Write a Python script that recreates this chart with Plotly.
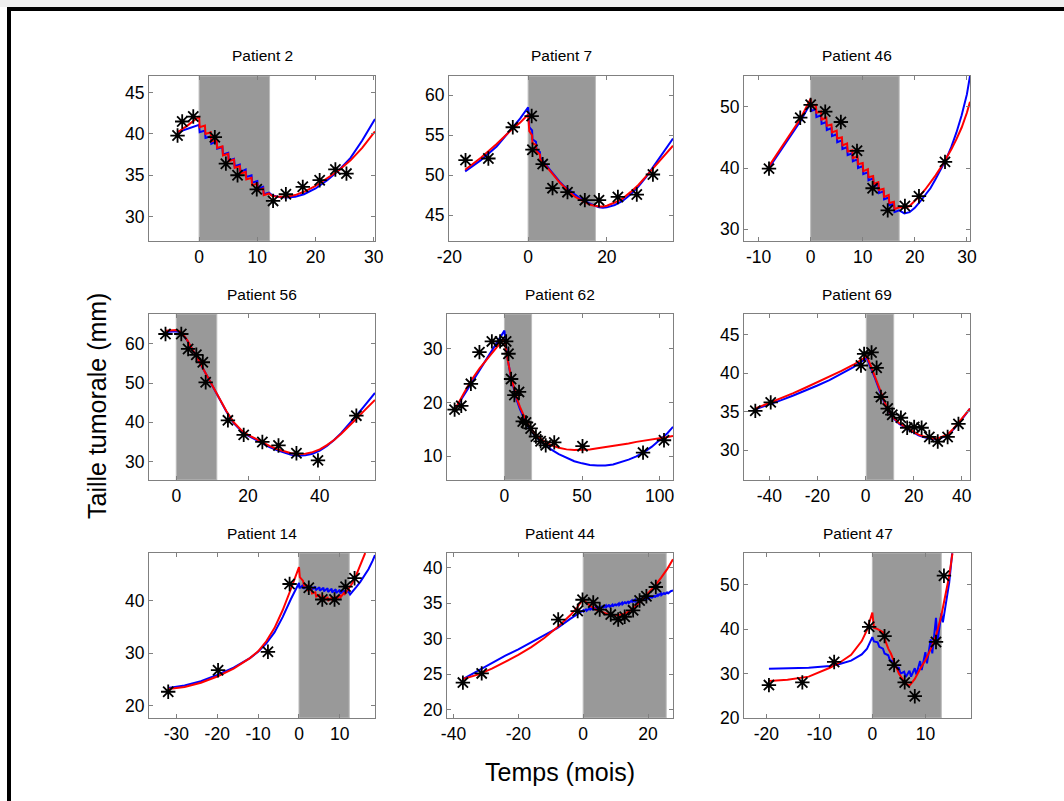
import plotly.graph_objects as go

W, H = 1064, 801

# ---------------- data ----------------
TITLES = ["Patient 2", "Patient 7", "Patient 46",
          "Patient 56", "Patient 62", "Patient 69",
          "Patient 14", "Patient 44", "Patient 47"]

# Patient 2
P2_OBS_T = [-3.7, -2.9, -1.0, 2.7, 4.6, 6.6, 9.9, 12.7, 14.9, 17.8, 20.7, 23.4, 25.3]
P2_OBS_Y = [39.8, 41.5, 42.1, 39.6, 36.4, 35.0, 33.3, 31.9, 32.7, 33.6, 34.4, 35.7, 35.2]
P2_TREAT = [0, 12.1]
P2_M_T = [-3.7, -2.0, 0.0, 0.1, 1.0, 1.1, 2.0, 2.1, 3.0, 3.1, 4.0, 4.1, 5.0, 5.1, 6.0, 6.1, 7.0, 7.1,
          8.0, 8.1, 9.0, 9.1, 10.0, 10.1, 11.0, 11.1, 12.0, 12.5, 13.5, 15.0, 16.5, 18.0, 20.0, 22.0,
          24.0, 26.0, 28.0, 30.2]
P2_M1_Y = [40.2, 40.6, 41.1, 40.2, 40.4, 39.5, 39.7, 38.8, 39.1, 38.2, 38.4, 37.5, 37.7, 36.8, 37.0,
           36.1, 36.3, 35.4, 35.7, 34.8, 35.0, 34.1, 34.3, 33.4, 33.6, 32.7, 32.9, 32.6, 32.4, 32.3,
           32.4, 32.7, 33.4, 34.4, 35.6, 37.1, 39.2, 41.8]
P2_M2_Y = [40.2, 41.0, 42.1, 40.8, 41.0, 40.0, 40.2, 39.1, 39.3, 38.3, 38.5, 37.4, 37.6, 36.7, 36.9,
           35.9, 36.1, 35.2, 35.4, 34.5, 34.7, 33.8, 34.0, 33.2, 33.4, 32.6, 32.8, 32.5, 32.4, 32.4,
           32.6, 33.0, 33.7, 34.6, 35.6, 36.8, 38.3, 40.3]

# Patient 7
P7_OBS_T = [-15.9, -10.1, -3.9, 0.9, 1.1, 3.7, 6.2, 10.0, 14.4, 18.0, 22.8, 27.6, 31.7]
P7_OBS_Y = [51.9, 52.1, 56.0, 57.4, 53.2, 51.4, 48.4, 47.9, 46.9, 46.9, 47.3, 47.6, 50.1]
P7_TREAT = [0, 17.1]
P7_M_T = [-16, -12, -8, -4, -2, 0, 0.3, 1, 1.1, 2, 2.1, 3, 3.1, 4, 5, 6, 7, 8, 9, 10, 11, 12, 13,
          14, 15, 16, 17, 18, 19, 20, 22, 24, 26, 28, 30, 32, 34, 36.8]
P7_M1_Y = [50.5, 51.9, 53.6, 55.9, 57.1, 58.5, 56.0, 55.6, 54.5, 54.2, 53.2, 52.9, 52.2, 51.6, 51.0,
           50.3, 49.7, 49.2, 48.7, 48.3, 47.9, 47.5, 47.2, 46.9, 46.6, 46.4, 46.2, 46.0, 45.95, 46.0,
           46.3, 46.8, 47.6, 48.6, 49.8, 51.2, 52.7, 54.6]
P7_M2_Y = [50.7, 52.2, 53.9, 55.8, 56.6, 57.6, 55.5, 55.0, 54.0, 53.8, 53.0, 52.6, 52.0, 51.5, 50.9,
           50.3, 49.7, 49.1, 48.6, 48.1, 47.7, 47.3, 47.0, 46.7, 46.5, 46.3, 46.2, 46.1, 46.1, 46.2,
           46.6, 47.1, 47.9, 48.8, 49.9, 51.0, 52.2, 53.7]

# Patient 46
P46_OBS_T = [-8.0, -2.0, 0.0, 2.8, 5.8, 8.9, 11.9, 14.8, 18.1, 20.8, 25.8]
P46_OBS_Y = [39.9, 48.2, 50.3, 49.2, 47.5, 42.8, 36.7, 33.1, 33.8, 35.4, 41.0]
P46_TREAT = [0, 17]
P46_M_T = [-8, -6, -4, -2, 0, 0.1, 1, 1.1, 2, 2.1, 3, 3.1, 4, 4.1, 5, 5.1, 6, 6.1, 7, 7.1, 8, 8.1,
           9, 9.1, 10, 10.1, 11, 11.1, 12, 12.1, 13, 13.1, 14, 14.1, 15, 15.1, 16, 16.1, 17, 18, 19,
           20, 21, 22, 23, 24, 25, 26, 27, 28, 29, 30, 30.6]
P46_M1_Y = [40.0, 42.5, 45.0, 47.6, 50.6, 49.3, 49.6, 48.3, 48.6, 47.2, 47.5, 46.2, 46.5, 45.2, 45.5,
            44.2, 44.5, 43.1, 43.4, 42.1, 42.4, 41.1, 41.4, 40.0, 40.3, 39.0, 39.3, 38.0, 38.3, 37.0,
            37.3, 35.9, 36.2, 34.9, 35.2, 33.9, 34.2, 32.8, 33.1, 32.6, 32.8, 33.5, 34.5, 35.6, 36.7,
            38.2, 39.7, 41.4, 43.4, 45.8, 48.6, 52.0, 55.0]
P46_M2_Y = [40.3, 42.8, 45.3, 48.0, 51.3, 50.0, 50.3, 49.0, 49.2, 47.9, 48.2, 46.9, 47.1, 45.8, 46.1,
            44.8, 45.0, 43.7, 44.0, 42.7, 42.9, 41.6, 41.9, 40.6, 40.8, 39.5, 39.8, 38.5, 38.7, 37.4,
            37.7, 36.4, 36.6, 35.3, 35.6, 34.3, 34.5, 33.3, 33.6, 33.5, 33.8, 34.6, 35.5, 36.5, 37.6,
            38.8, 40.1, 41.5, 43.0, 44.7, 46.6, 49.0, 50.8]

# Patient 56
P56_OBS_T = [-3.0, 1.4, 3.3, 5.6, 7.4, 8.2, 14.4, 18.8, 24.0, 28.5, 33.5, 39.5, 50.2]
P56_OBS_Y = [62.5, 62.5, 58.7, 57.2, 55.3, 50.2, 40.5, 36.8, 35.0, 34.1, 32.1, 30.3, 41.7]
P56_TREAT = [0, 11.3]
P56_M_T = [-3, -1, 0, 1, 2, 3, 4, 5, 6, 7, 8, 9, 10, 11, 12, 13, 14, 16, 18, 20, 22, 24, 26, 28,
           30, 32, 34, 36, 38, 40, 42, 44, 46, 48, 50, 52, 55.4]
P56_M1_Y = [63.0, 63.2, 63.2, 63.0, 62.2, 60.9, 59.4, 57.8, 56.2, 54.5, 52.8, 51.1, 49.5, 48.0, 46.4,
            44.5, 42.7, 39.8, 37.9, 36.6, 35.6, 34.6, 33.7, 32.9, 32.2, 31.7, 31.5, 31.6, 32.0, 32.8,
            34.0, 35.5, 37.3, 39.3, 41.5, 43.7, 47.5]
P56_M2_Y = [63.3, 63.5, 63.5, 63.2, 62.3, 61.0, 59.5, 57.9, 56.2, 54.5, 52.8, 51.1, 49.5, 48.0, 46.4,
            44.6, 42.8, 40.0, 38.1, 36.8, 35.8, 34.9, 34.0, 33.2, 32.6, 32.1, 31.9, 32.0, 32.4, 33.1,
            34.2, 35.5, 37.1, 38.8, 40.7, 42.6, 45.7]

# Patient 62
P62_OBS_T = [-32.1, -27.8, -21.6, -16.1, -8.1, -2.8, 1.1, 2.6, 4.3, 6.4, 9.4, 11.8, 13.9, 16.9,
             20.3, 23.3, 26.6, 32.1, 50.3, 89.3, 102.8]
P62_OBS_Y = [18.7, 19.4, 23.5, 29.4, 31.4, 31.4, 31.4, 29.1, 24.4, 21.4, 22.0, 16.5, 16.3, 15.2,
             13.7, 12.8, 12.05, 12.6, 11.9, 10.7, 13.0]
P62_TREAT = [0, 17.5]
P62_M_T = [-32, -27, -22, -16, -10, -5, 0, 1, 2, 4, 6, 8, 10, 12, 14, 16, 18, 20, 25, 30, 35, 40,
           45, 50, 55, 60, 65, 70, 75, 80, 85, 90, 95, 100, 105, 108.6]
P62_M1_Y = [18.7, 21.0, 23.3, 26.1, 28.8, 31.1, 33.4, 30.6, 28.3, 25.0, 22.4, 20.4, 18.8, 17.4,
            16.2, 15.2, 14.4, 13.7, 12.4, 11.3, 10.4, 9.7, 9.1, 8.7, 8.4, 8.3, 8.3, 8.5, 8.9, 9.4,
            10.0, 10.8, 11.8, 13.0, 14.3, 15.5]
P62_M2_Y = [18.7, 21.3, 23.9, 26.4, 28.6, 30.3, 31.8, 29.9, 28.1, 25.2, 22.8, 20.8, 19.2, 17.8,
            16.6, 15.6, 14.8, 14.1, 12.9, 12.1, 11.6, 11.3, 11.2, 11.2, 11.3, 11.5, 11.7, 11.9, 12.2,
            12.4, 12.7, 12.9, 13.2, 13.4, 13.6, 13.8]

# Patient 69
P69_OBS_T = [-45.8, -39.4, -1.9, -0.6, 2.5, 4.6, 6.4, 9.2, 11.1, 14.7, 17.3, 20.2, 23.3, 26.5,
             30.0, 34.1, 38.6]
P69_OBS_Y = [35.1, 36.2, 41.0, 42.5, 42.7, 40.7, 36.9, 35.4, 34.6, 34.2, 32.9, 33.0, 32.9, 31.7,
             31.1, 31.7, 33.4]
P69_TREAT = [0.3, 11.7]
P69_M_T = [-45.8, -40, -35, -30, -25, -20, -15, -10, -5, 0.5, 2, 4, 6, 8, 9, 10, 11, 12, 14, 16,
           18, 20, 22, 24, 26, 28, 30, 32, 34, 36, 38, 40, 43.4]
P69_M1_Y = [35.3, 35.9, 36.5, 37.1, 37.7, 38.4, 39.1, 39.9, 40.8, 42.0, 40.9, 39.3, 37.6, 36.0, 35.3,
            34.8, 34.4, 34.0, 33.4, 33.0, 32.6, 32.2, 31.9, 31.7, 31.5, 31.4, 31.4, 31.6, 31.9, 32.5,
            33.2, 34.0, 35.4]
P69_M2_Y = [35.4, 36.1, 36.8, 37.4, 38.1, 38.8, 39.5, 40.3, 41.1, 42.2, 41.1, 39.4, 37.7, 36.1, 35.4,
            34.9, 34.5, 34.1, 33.5, 33.1, 32.7, 32.3, 32.0, 31.8, 31.6, 31.5, 31.5, 31.7, 32.0, 32.6,
            33.3, 34.1, 35.4]

# Patient 14
P14_OBS_T = [-32.0, -19.8, -7.6, -2.3, 2.4, 5.7, 8.7, 11.4, 13.6]
P14_OBS_Y = [22.7, 26.8, 30.3, 43.2, 42.5, 40.25, 40.25, 42.7, 44.3]
P14_TREAT = [0, 12.3]
P14_M1_T = [-32, -28, -24, -20, -16, -12, -10, -8, -6, -4, -2, 0, 0.1, 1, 1.1, 2, 2.1, 3, 3.1, 4,
            4.1, 5, 5.1, 6, 6.1, 7, 7.1, 8, 8.1, 9, 9.1, 10, 10.1, 11, 11.1, 12, 12.5, 13, 14, 15,
            16, 17, 18, 18.6]
P14_M1_Y = [23.4, 23.9, 24.7, 25.9, 27.3, 29.1, 30.3, 31.9, 34.0, 36.9, 40.3, 43.4, 42.4, 43.0, 42.3,
            42.9, 42.2, 42.8, 42.1, 42.7, 42.0, 42.6, 41.9, 42.5, 41.8, 42.4, 41.7, 42.3, 41.6, 42.2,
            41.5, 42.1, 41.4, 42.0, 41.3, 41.9, 41.2, 41.6, 42.6, 43.6, 44.8, 46.0, 47.6, 48.7]
P14_M2_T = [-32, -28, -24, -20, -16, -12, -10, -8, -6, -4, -2, 0, 0.2, 1, 1.2, 2, 2.2, 3, 3.2, 4,
            4.2, 5, 5.2, 6, 6.2, 7, 7.2, 8, 8.2, 9, 9.2, 10, 10.2, 11, 11.2, 12, 13, 14, 15, 16.2]
P14_M2_Y = [23.2, 23.6, 24.4, 25.6, 27.1, 29.1, 30.4, 32.3, 34.8, 38.2, 42.2, 46.4, 44.5, 43.8, 42.9,
            42.9, 42.0, 42.2, 41.4, 41.6, 40.8, 41.1, 40.4, 40.8, 40.2, 40.6, 40.1, 40.6, 40.1, 40.7,
            40.3, 41.0, 40.7, 41.5, 41.3, 42.1, 43.3, 44.9, 46.8, 49.1]

# Patient 44
P44_OBS_T = [-37.1, -31.3, -7.7, -1.7, -0.2, 3.1, 5.1, 8.5, 10.8, 12.8, 15.4, 17.4, 19.5, 22.4]
P44_OBS_Y = [23.8, 25.1, 32.7, 33.9, 35.5, 35.1, 34.1, 33.4, 32.7, 33.1, 34.0, 35.4, 36.0, 37.3]
P44_TREAT = [0, 25.6]
P44_M1_T = [-37.1, -32, -28, -24, -20, -16, -12, -8, -4, -2, 0,
            0.1, 1, 1.1, 2, 2.1, 3, 3.1, 4, 4.1, 5, 5.1, 6, 6.1, 7, 7.1, 8, 8.1, 9, 9.1, 10,
            10.1, 11, 11.1, 12, 12.1, 13, 13.1, 14, 14.1, 15, 15.1, 16, 16.1, 17, 17.1, 18, 18.1, 19,
            19.1, 20, 20.1, 21, 21.1, 22, 22.1, 23, 23.1, 24, 24.1, 25, 25.1, 26, 26.1, 27, 27.7]
P44_M1_Y = [24.3, 25.6, 26.6, 27.6, 28.5, 29.5, 30.4, 31.5, 32.8, 33.4, 34.0,
            33.85, 34.2, 33.95, 34.3, 34.05, 34.4, 34.15, 34.5, 34.15, 34.5, 34.25, 34.6, 34.35, 34.7,
            34.45, 34.8, 34.45, 34.8, 34.55, 34.9, 34.65, 35.0, 34.75, 35.1, 34.85, 35.2, 34.95, 35.3,
            35.05, 35.4, 35.15, 35.5, 35.25, 35.6, 35.35, 35.7, 35.45, 35.8, 35.55, 35.9, 35.65, 36.0,
            35.75, 36.1, 35.85, 36.2, 36.05, 36.4, 36.15, 36.5, 36.25, 36.6, 36.35, 36.7, 36.8]
P44_M2_T = [-37.1, -32, -28, -24, -20, -16, -12, -8, -4, -2, 0, 1, 2, 4, 6, 8, 10, 12, 14, 16, 18,
            20, 22, 24, 26, 27.7]
P44_M2_Y = [24.3, 25.0, 25.8, 26.7, 27.7, 28.8, 30.1, 31.6, 33.3, 34.3, 35.6, 35.1, 34.7, 34.1, 33.7,
            33.4, 33.3, 33.4, 33.8, 34.5, 35.4, 36.4, 37.4, 38.6, 39.9, 41.2]

# Patient 47
P47_OBS_T = [-19.5, -13.2, -7.2, -0.6, 2.3, 4.1, 6.1, 8.0, 12.0, 13.5]
P47_OBS_Y = [27.4, 28.0, 32.6, 40.5, 38.4, 31.9, 28.0, 24.9, 37.1, 52.0]
P47_TREAT = [0, 13]
P47_M1_T = [-19.5, -16, -12, -8, -6, -4, -2, -1, 0, 0.3, 1, 1.3, 2, 2.3, 3, 3.3, 4, 4.3, 5, 5.3, 6,
            6.3, 7, 7.3, 8, 8.3, 9, 9.3, 10, 10.3, 11, 11.3, 12, 12.3, 13, 13.3, 14, 14.5, 15.05]
P47_M1_Y = [31.1, 31.2, 31.3, 31.7, 32.2, 32.9, 34.3, 35.6, 38.2, 37.2, 37.0, 36.0, 35.6, 34.5, 34.1,
            33.0, 32.7, 31.5, 31.3, 30.0, 30.4, 29.2, 30.6, 29.3, 31.2, 29.8, 32.8, 30.8, 34.8, 32.3,
            37.7, 34.5, 42.5, 37.3, 43.5, 41.5, 46.5, 50.5, 57.0]
P47_M2_T = [-19.5, -16, -12, -8, -6, -4, -2, -1, 0, 0.3, 1, 2, 2.4, 3, 3.5, 4, 4.5, 5, 5.5, 6, 6.5,
            7, 7.5, 8, 9, 10, 11, 12, 13, 14, 14.5, 15.1]
P47_M2_Y = [28.3, 28.6, 29.3, 31.3, 32.6, 34.2, 37.3, 39.8, 43.7, 40.3, 40.0, 39.3, 37.5, 35.6, 34.5,
            32.8, 31.5, 30.0, 29.0, 28.2, 27.6, 27.3, 28.0, 28.8, 31.0, 33.0, 35.5, 38.5, 43.0, 48.5,
            52.0, 57.0]

# tick values
P2_XT, P2_YT = [0, 10, 20, 30], [30, 35, 40, 45]
P7_XT, P7_YT = [-20, 0, 20], [45, 50, 55, 60]
P46_XT, P46_YT = [-10, 0, 10, 20, 30], [30, 40, 50]
P56_XT, P56_YT = [0, 20, 40], [30, 40, 50, 60]
P62_XT, P62_YT = [0, 50, 100], [10, 20, 30]
P69_XT, P69_YT = [-40, -20, 0, 20, 40], [30, 35, 40, 45]
P14_XT, P14_YT = [-30, -20, -10, 0, 10], [20, 30, 40]
P44_XT, P44_YT = [-40, -20, 0, 20], [20, 25, 30, 35, 40]
P47_XT, P47_YT = [-20, -10, 0, 10], [20, 30, 40, 50]

# ---------------- panels ----------------
panels = [
    dict(obs=(P2_OBS_T, P2_OBS_Y), m1=(P2_M_T, P2_M1_Y), m2=(P2_M_T, P2_M2_Y), tr=P2_TREAT,
         xr=[-8.6, 30.2], yr=[27.05, 47.0], xt=P2_XT, yt=P2_YT, box=(149, 375, 76, 241)),
    dict(obs=(P7_OBS_T, P7_OBS_Y), m1=(P7_M_T, P7_M1_Y), m2=(P7_M_T, P7_M2_Y), tr=P7_TREAT,
         xr=[-20.1, 36.8], yr=[41.8, 62.4], xt=P7_XT, yt=P7_YT, box=(449, 673, 76, 241)),
    dict(obs=(P46_OBS_T, P46_OBS_Y), m1=(P46_M_T, P46_M1_Y), m2=(P46_M_T, P46_M2_Y), tr=P46_TREAT,
         xr=[-12.8, 30.6], yr=[28.1, 55.0], xt=P46_XT, yt=P46_YT, box=(744, 970, 76, 241)),
    dict(obs=(P56_OBS_T, P56_OBS_Y), m1=(P56_M_T, P56_M1_Y), m2=(P56_M_T, P56_M2_Y), tr=P56_TREAT,
         xr=[-7.6, 55.4], yr=[25.3, 67.6], xt=P56_XT, yt=P56_YT, box=(149, 375, 314, 480)),
    dict(obs=(P62_OBS_T, P62_OBS_Y), m1=(P62_M_T, P62_M1_Y), m2=(P62_M_T, P62_M2_Y), tr=P62_TREAT,
         xr=[-37.0, 108.6], yr=[5.6, 36.5], xt=P62_XT, yt=P62_YT, box=(447, 673, 314, 480)),
    dict(obs=(P69_OBS_T, P69_OBS_Y), m1=(P69_M_T, P69_M1_Y), m2=(P69_M_T, P69_M2_Y), tr=P69_TREAT,
         xr=[-50.5, 43.4], yr=[26.1, 47.7], xt=P69_XT, yt=P69_YT, box=(744, 970, 314, 480)),
    dict(obs=(P14_OBS_T, P14_OBS_Y), m1=(P14_M1_T, P14_M1_Y), m2=(P14_M2_T, P14_M2_Y), tr=P14_TREAT,
         xr=[-36.7, 18.6], yr=[17.7, 49.1], xt=P14_XT, yt=P14_YT, box=(149, 375, 553, 718)),
    dict(obs=(P44_OBS_T, P44_OBS_Y), m1=(P44_M1_T, P44_M1_Y), m2=(P44_M2_T, P44_M2_Y), tr=P44_TREAT,
         xr=[-42.0, 27.7], yr=[18.8, 42.1], xt=P44_XT, yt=P44_YT, box=(447, 673, 553, 718)),
    dict(obs=(P47_OBS_T, P47_OBS_Y), m1=(P47_M1_T, P47_M1_Y), m2=(P47_M2_T, P47_M2_Y), tr=P47_TREAT,
         xr=[-24.2, 18.6], yr=[20.0, 57.1], xt=P47_XT, yt=P47_YT, box=(744, 971, 553, 718)),
]

FONT = "Arial, Liberation Sans, sans-serif"
FRAME = "#808080"

fig = go.Figure()
layout = dict(template="none", width=W, height=H, margin=dict(l=0, r=0, t=0, b=0, pad=0),
              autosize=False, paper_bgcolor="white", plot_bgcolor="white", showlegend=False,
              font=dict(family=FONT, color="black"))
shapes = []
annotations = []

for i, p in enumerate(panels):
    n = i + 1
    xa = "x" if n == 1 else f"x{n}"
    ya = "y" if n == 1 else f"y{n}"
    x0, x1, y0, y1 = p["box"]
    axis_common = dict(showline=True, linecolor=FRAME, linewidth=1, mirror="ticks",
                       ticks="inside", ticklen=4, tickcolor=FRAME, showgrid=False,
                       zeroline=False, automargin=False,
                       tickfont=dict(size=17.5, family=FONT, color="black"))
    layout["xaxis" if n == 1 else f"xaxis{n}"] = dict(
        domain=[x0 / W, x1 / W], range=p["xr"], tickvals=p["xt"],
        ticktext=[str(v) for v in p["xt"]], anchor=ya, **axis_common)
    layout["yaxis" if n == 1 else f"yaxis{n}"] = dict(
        domain=[1 - y1 / H, 1 - y0 / H], range=p["yr"], tickvals=p["yt"],
        ticktext=[str(v) for v in p["yt"]], anchor=xa, **axis_common)
    # treatment period
    shapes.append(dict(type="rect", xref=xa, yref=f"{ya} domain", x0=p["tr"][0], x1=p["tr"][1],
                       y0=0, y1=1, fillcolor="#999999", line=dict(color="#bcbcbc", width=1),
                       layer="below"))
    fig.add_trace(go.Scatter(x=p["m1"][0], y=p["m1"][1], mode="lines", xaxis=xa, yaxis=ya,
                             line=dict(color="#0000ff", width=2), cliponaxis=True))
    fig.add_trace(go.Scatter(x=p["m2"][0], y=p["m2"][1], mode="lines", xaxis=xa, yaxis=ya,
                             line=dict(color="#ff0000", width=2), cliponaxis=True))
    fig.add_trace(go.Scatter(x=p["obs"][0], y=p["obs"][1], mode="markers", xaxis=xa, yaxis=ya,
                             marker=dict(symbol="asterisk-open", size=12, color="black",
                                         line=dict(color="black", width=1.8)),
                             cliponaxis=False))
    annotations.append(dict(text=TITLES[i], xref="paper", yref="paper", x=(x0 + x1) / 2 / W,
                            y=1 - (y0 - 20) / H, xanchor="center", yanchor="middle",
                            showarrow=False, font=dict(size=15.5, family=FONT, color="black")))

annotations.append(dict(text="Taille tumorale (mm)", xref="paper", yref="paper", x=97 / W,
                        y=1 - 406 / H, textangle=-90, xanchor="center", yanchor="middle",
                        showarrow=False, font=dict(size=25, family=FONT, color="black")))
annotations.append(dict(text="Temps (mois)", xref="paper", yref="paper", x=560 / W,
                        y=1 - 772 / H, xanchor="center", yanchor="middle",
                        showarrow=False, font=dict(size=25, family=FONT, color="black")))

# outer frame of the figure (light strip + thick black border on top and left)
shapes.append(dict(type="rect", xref="paper", yref="paper", x0=0, x1=1, y0=1 - 7 / H, y1=1,
                   fillcolor="#efefef", line=dict(width=0), layer="above"))
shapes.append(dict(type="rect", xref="paper", yref="paper", x0=7 / W, x1=1, y0=1 - 11 / H,
                   y1=1 - 7 / H, fillcolor="black", line=dict(width=0), layer="above"))
shapes.append(dict(type="rect", xref="paper", yref="paper", x0=7 / W, x1=11 / W, y0=0,
                   y1=1 - 7 / H, fillcolor="black", line=dict(width=0), layer="above"))

layout["shapes"] = shapes
layout["annotations"] = annotations
fig.update_layout(**layout)
fig.write_html("out.html", config={"displayModeBar": False},
               post_script="document.body.style.margin='0';document.body.style.overflow='hidden';")
